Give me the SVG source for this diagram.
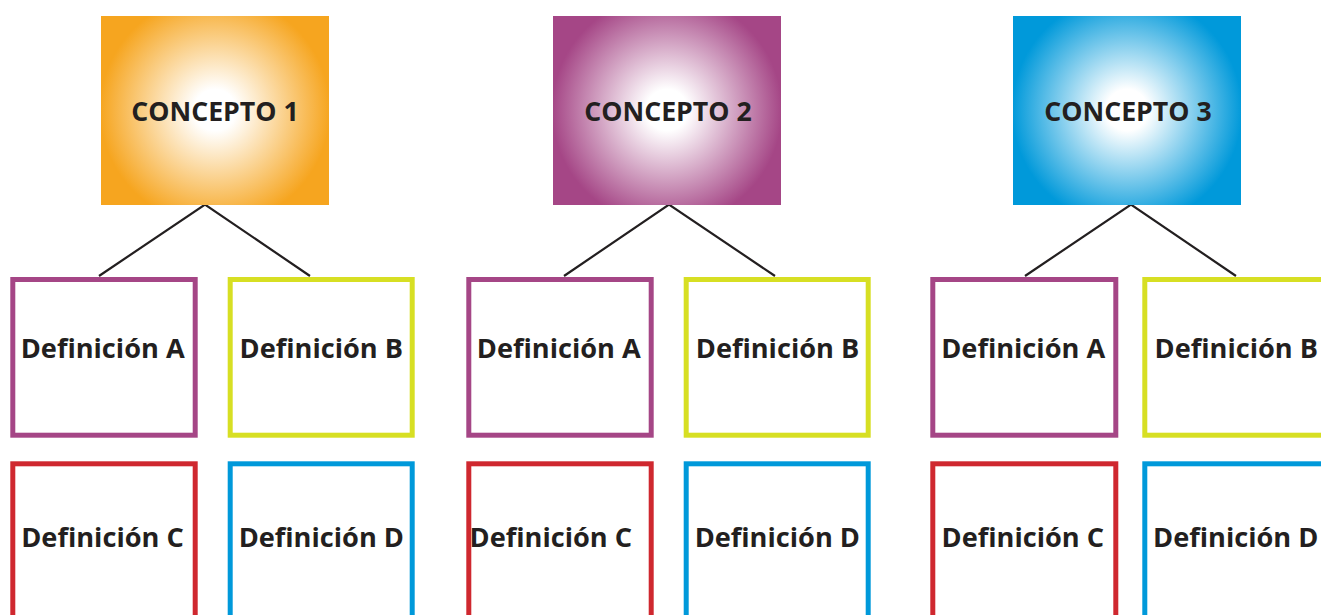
<svg xmlns="http://www.w3.org/2000/svg" width="1321" height="615" viewBox="0 0 1321 615">
  <style>
    .concept-text { font-family: "Open Sans", "Noto Sans", "Liberation Sans", sans-serif; font-weight: 700; font-size: 26.7px; fill: #231F20; text-anchor: middle; }
    .def-text { font-family: "Open Sans", "Noto Sans", "Liberation Sans", sans-serif; font-weight: 700; font-size: 27.2px; fill: #231F20; text-anchor: middle; }
    .def { fill: #FFFFFF; stroke-width: 5; }
    .defA { stroke: #A54686; }
    .defB { stroke: #D7DF23; }
    .defC { stroke: #CF282F; }
    .defD { stroke: #0099DA; }
    .link { stroke: #231F20; stroke-width: 2.2; fill: none; }
  </style>
  <defs>
    <radialGradient id="gOrange" gradientUnits="userSpaceOnUse" cx="215" cy="110" r="115">
      <stop offset="0" stop-color="#FFFFFF"/>
      <stop offset="0.18" stop-color="#FFFFFF"/>
      <stop offset="1" stop-color="#F6A51F"/>
    </radialGradient>
    <radialGradient id="gPurple" gradientUnits="userSpaceOnUse" cx="667" cy="110" r="115">
      <stop offset="0" stop-color="#FFFFFF"/>
      <stop offset="0.18" stop-color="#FFFFFF"/>
      <stop offset="1" stop-color="#A54686"/>
    </radialGradient>
    <radialGradient id="gBlue" gradientUnits="userSpaceOnUse" cx="1127" cy="110" r="115">
      <stop offset="0" stop-color="#FFFFFF"/>
      <stop offset="0.18" stop-color="#FFFFFF"/>
      <stop offset="1" stop-color="#0099DA"/>
    </radialGradient>
  </defs>
  <rect width="1321" height="615" fill="#FFFFFF"/>

  <g id="connectors">
    <polyline class="link" points="99,276 205,204.5 310,276"/>
    <polyline class="link" points="564,276 669,204.5 775,276"/>
    <polyline class="link" points="1025,276 1131,204.5 1236,276"/>
  </g>

  <g id="concepto1">
    <rect x="101" y="16" width="228" height="189" fill="url(#gOrange)"/>
    <text class="concept-text" x="215" y="121">CONCEPTO 1</text>
  </g>
  <g id="concepto2">
    <rect x="553" y="16" width="228" height="189" fill="url(#gPurple)"/>
    <text class="concept-text" x="668" y="121">CONCEPTO 2</text>
  </g>
  <g id="concepto3">
    <rect x="1013" y="16" width="228" height="189" fill="url(#gBlue)"/>
    <text class="concept-text" x="1128" y="121">CONCEPTO 3</text>
  </g>

  <g id="c1-defA">
    <rect class="def defA" x="12.8" y="279.5" width="182.4" height="155.7"/>
    <text class="def-text" x="102.7" y="358.3">Definición A</text>
  </g>
  <g id="c1-defB">
    <rect class="def defB" x="230.2" y="279.5" width="182" height="155.7"/>
    <text class="def-text" x="321.3" y="358.3">Definición B</text>
  </g>
  <g id="c1-defC">
    <rect class="def defC" x="12.8" y="463.8" width="182.4" height="170"/>
    <text class="def-text" x="102.5" y="546.7">Definición C</text>
  </g>
  <g id="c1-defD">
    <rect class="def defD" x="230.2" y="463.8" width="182" height="170"/>
    <text class="def-text" x="321.3" y="546.7">Definición D</text>
  </g>

  <g id="c2-defA">
    <rect class="def defA" x="468.8" y="279.5" width="182.4" height="155.7"/>
    <text class="def-text" x="558.8" y="358.3">Definición A</text>
  </g>
  <g id="c2-defB">
    <rect class="def defB" x="686.2" y="279.5" width="182" height="155.7"/>
    <text class="def-text" x="777.5" y="358.3">Definición B</text>
  </g>
  <g id="c2-defC">
    <rect class="def defC" x="468.8" y="463.8" width="182.4" height="170"/>
    <text class="def-text" x="550.8" y="546.7">Definición C</text>
  </g>
  <g id="c2-defD">
    <rect class="def defD" x="686.2" y="463.8" width="182" height="170"/>
    <text class="def-text" x="777.3" y="546.7">Definición D</text>
  </g>

  <g id="c3-defA">
    <rect class="def defA" x="932.8" y="279.5" width="183" height="155.7"/>
    <text class="def-text" x="1023.2" y="358.3">Definición A</text>
  </g>
  <g id="c3-defB">
    <rect class="def defB" x="1144.8" y="279.5" width="190" height="155.7"/>
    <text class="def-text" x="1236.3" y="358.3">Definición B</text>
  </g>
  <g id="c3-defC">
    <rect class="def defC" x="932.8" y="463.8" width="183" height="170"/>
    <text class="def-text" x="1022.8" y="546.7">Definición C</text>
  </g>
  <g id="c3-defD">
    <rect class="def defD" x="1144.8" y="463.8" width="190" height="170"/>
    <text class="def-text" x="1235.7" y="546.7">Definición D</text>
  </g>
</svg>
